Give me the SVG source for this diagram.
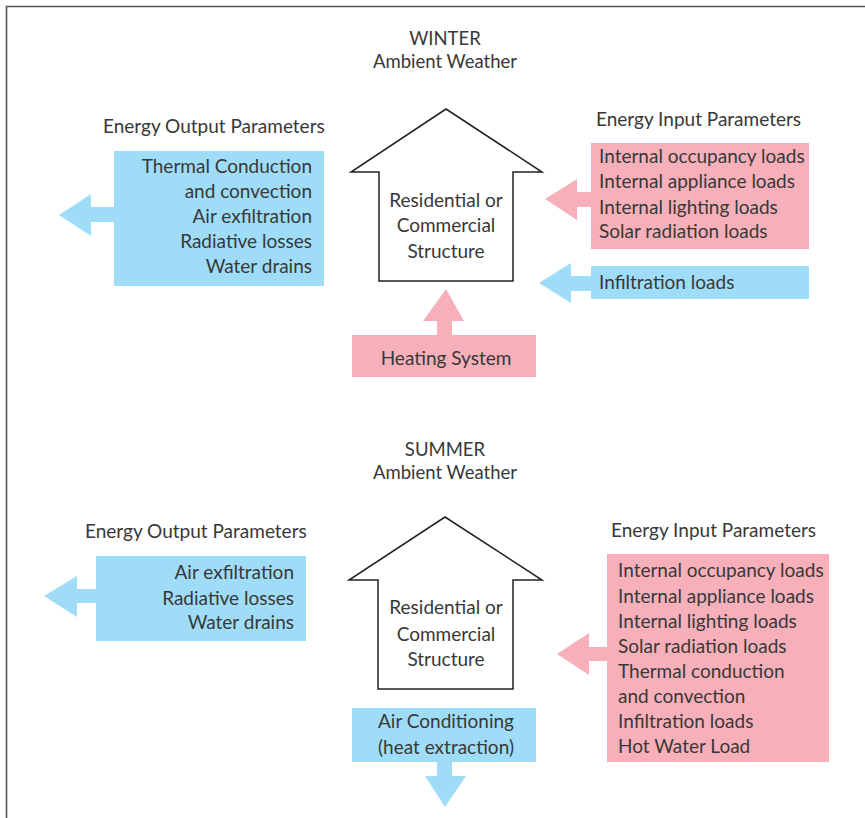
<svg xmlns="http://www.w3.org/2000/svg" width="865" height="818" viewBox="0 0 865 818">
<style>
text{font-family:Lato,"Open Sans","Liberation Sans",sans-serif;font-size:19px;fill:#383838}
.c{text-anchor:middle}
.r{text-anchor:end}
.h{font-size:18.5px}
.blue{fill:#9fdcf7}
.pink{fill:#f7b0ba}
.house{fill:#fff;stroke:#222;stroke-width:1.5}
</style>
<rect width="865" height="818" fill="#fff"/>
<path d="M6.5 818V6.5H865" fill="none" stroke="#555" stroke-width="1.6"/>

<g id="winter-title">
<text class="c h" x="445" y="45">WINTER</text>
<text class="c h" x="445" y="68">Ambient Weather</text>
</g>

<g id="winter-output">
<text x="103" y="133">Energy Output Parameters</text>
<rect class="blue" x="114" y="151" width="210" height="135"/>
<text class="r" x="312" y="173">Thermal Conduction</text>
<text class="r" x="312" y="198">and convection</text>
<text class="r" x="312" y="223">Air exfiltration</text>
<text class="r" x="312" y="248">Radiative losses</text>
<text class="r" x="312" y="273">Water drains</text>
</g>

<g id="winter-house">
<path class="house" d="M446 109L542 172H513V281H379V172H351Z"/>
<text class="c" x="446" y="207">Residential or</text>
<text class="c" x="446" y="232">Commercial</text>
<text class="c" x="446" y="258">Structure</text>
</g>

<g id="winter-input">
<text x="596" y="126">Energy Input Parameters</text>
<rect class="pink" x="591" y="143" width="218" height="106"/>
<text x="599" y="163">Internal occupancy loads</text>
<text x="599" y="188">Internal appliance loads</text>
<text x="599" y="214">Internal lighting loads</text>
<text x="599" y="238">Solar radiation loads</text>
</g>

<g id="winter-infiltration">
<rect class="blue" x="591" y="266" width="218" height="33"/>
<text x="599" y="289">Infiltration loads</text>
</g>

<g id="heating">
<rect class="pink" x="352" y="335" width="184" height="42"/>
<text class="c" x="446" y="365">Heating System</text>
</g>

<g id="summer-title">
<text class="c h" x="445" y="456">SUMMER</text>
<text class="c h" x="445" y="479">Ambient Weather</text>
</g>

<g id="summer-output">
<text x="85" y="538">Energy Output Parameters</text>
<rect class="blue" x="96" y="556" width="210" height="85"/>
<text class="r" x="294" y="579">Air exfiltration</text>
<text class="r" x="294" y="605">Radiative losses</text>
<text class="r" x="294" y="629">Water drains</text>
</g>

<g id="summer-house">
<path class="house" d="M445 517L542 580H513V689H378V580H349Z"/>
<text class="c" x="446" y="614">Residential or</text>
<text class="c" x="446" y="641">Commercial</text>
<text class="c" x="446" y="666">Structure</text>
</g>

<g id="summer-input">
<text x="611" y="537">Energy Input Parameters</text>
<rect class="pink" x="607" y="554" width="222" height="208"/>
<text x="618" y="577">Internal occupancy loads</text>
<text x="618" y="603">Internal appliance loads</text>
<text x="618" y="628">Internal lighting loads</text>
<text x="618" y="653">Solar radiation loads</text>
<text x="618" y="678">Thermal conduction</text>
<text x="618" y="703">and convection</text>
<text x="618" y="728">Infiltration loads</text>
<text x="618" y="753">Hot Water Load</text>
</g>

<g id="air-conditioning">
<rect class="blue" x="352" y="708" width="184" height="54"/>
<text class="c" x="446" y="728">Air Conditioning</text>
<text class="c" x="446" y="754">(heat extraction)</text>
</g>

<g id="connectors">
<path class="blue" d="M59 215L91 194V207H114V222H91V236Z"/>
<path class="pink" d="M545 199L577 179V192H591V207H577V220Z"/>
<path class="blue" d="M539 283L571 263V276H591V291H571V303Z"/>
<path class="pink" d="M446 289L464 321H452V336H437V321H423Z"/>
<path class="blue" d="M44 596L77 576V589H96V603H77V617Z"/>
<path class="pink" d="M557 654L589 633V647H607V661H589V675Z"/>
<path class="blue" d="M437 761H452V776H466L445 807L425 776H437Z"/>
</g>
</svg>
